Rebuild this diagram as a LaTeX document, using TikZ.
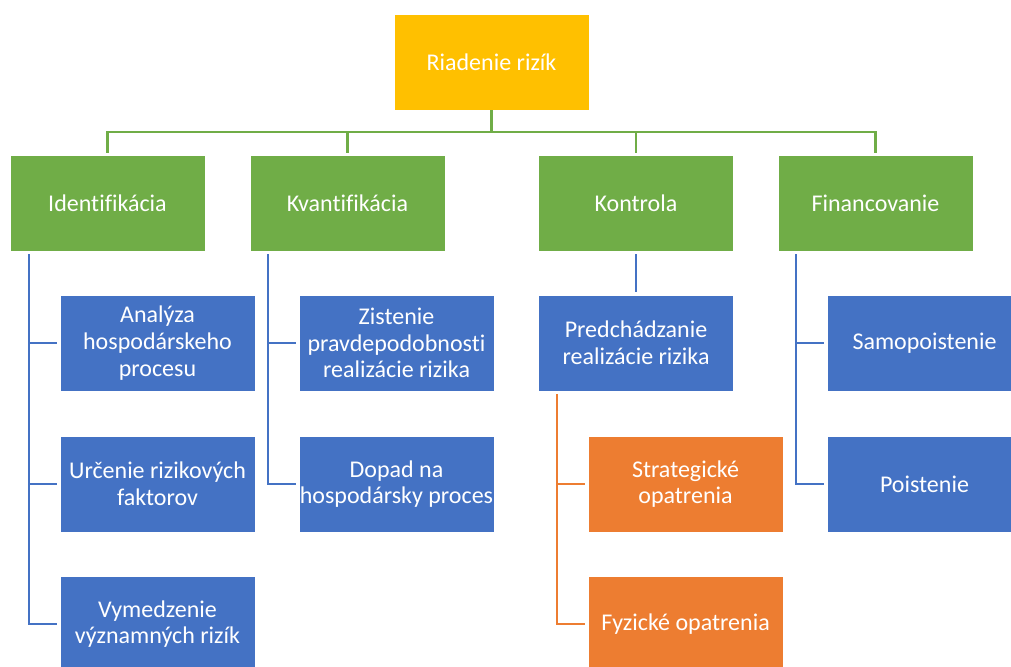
\documentclass[tikz,border=0pt]{standalone}
\usepackage{fontspec}
\setmainfont{Carlito}[Ligatures=NoCommon]
\usetikzlibrary{positioning}

\definecolor{rootyellow}{HTML}{FFC000}
\definecolor{levelgreen}{HTML}{70AD47}
\definecolor{levelblue}{HTML}{4472C4}
\definecolor{levelorange}{HTML}{ED7D31}

\begin{document}
\begin{tikzpicture}[x=1pt, y=-1pt,
  box/.style = {shape = rectangle, draw = white, line width = 0.5pt, minimum width = 195pt, minimum height = 96pt,
                text width = 195pt, inner sep = 0pt, align = flush center, text = white, font = \fontsize{24}{26.6}\selectfont},
  rootbox/.style = {box, fill = rootyellow},
  greenbox/.style = {box, fill = levelgreen},
  bluebox/.style = {box, fill = levelblue},
  orangebox/.style = {box, fill = levelorange},
  gline/.style = {draw = levelgreen, line width = 2.2pt, shorten > = 2pt},
  bline/.style = {draw = levelblue, line width = 2.2pt, shorten < = 3pt, shorten > = 3pt},
  oline/.style = {draw = levelorange, line width = 2.2pt, shorten < = 3pt, shorten > = 3pt}]
\useasboundingbox (0,0) rectangle (1011,666);
\clip (0,0) rectangle (1011,666);

% top
\node[rootbox] (riadenie) at (491.5,62) {Riadenie rizík};

% second level
\node[greenbox] (ident)  at (107.5,203) {Identifikácia};
\node[greenbox] (kvant)  at (347.5,203) {Kvantifikácia};
\node[greenbox] (kontr)  at (636,203)   {Kontrola};
\node[greenbox] (financ) at (875.5,203) {Financovanie};

% third level
\node[bluebox] (analyza)  at (157.5,343) {Analýza\\hospodárskeho\\procesu};
\node[bluebox] (urcenie)  at (157.5,484) {Určenie rizikových\\faktorov};
\node[bluebox] (vymedz)   at (157.5,624) {Vymedzenie\\významných rizík};
\node[bluebox] (zistenie) at (396.5,343) {Zistenie\\pravdepodobnosti\\realizácie rizika};
\node[bluebox] (dopad)    at (396.5,484) {Dopad na\\hospodársky proces};
\node[bluebox] (predch)   at (636,343)   {Predchádzanie\\realizácie rizika};
\node[bluebox] (samop)    at (924.5,343) {Samopoistenie};
\node[bluebox] (poist)    at (924.5,484) {Poistenie};

% fourth level
\node[orangebox] (strateg) at (685.5,484) {Strategické\\opatrenia};
\node[orangebox] (fyzicke) at (685.5,624) {Fyzické opatrenia};

% connectors
\foreach \child in {ident, kvant, kontr, financ}
  \draw[gline] (riadenie.south) -- ++(0,22) -| (\child.north);

\foreach \child in {analyza, urcenie, vymedz}
  \draw[bline] ([xshift=19pt]ident.south west) |- (\child.west);
\foreach \child in {zistenie, dopad}
  \draw[bline] ([xshift=18pt]kvant.south west) |- (\child.west);
\draw[bline] (kontr.south) -- (predch.north);
\foreach \child in {samop, poist}
  \draw[bline] ([xshift=18pt]financ.south west) |- (\child.west);

\foreach \child in {strateg, fyzicke}
  \draw[oline] ([xshift=19pt]predch.south west) |- (\child.west);
\end{tikzpicture}
\end{document}
